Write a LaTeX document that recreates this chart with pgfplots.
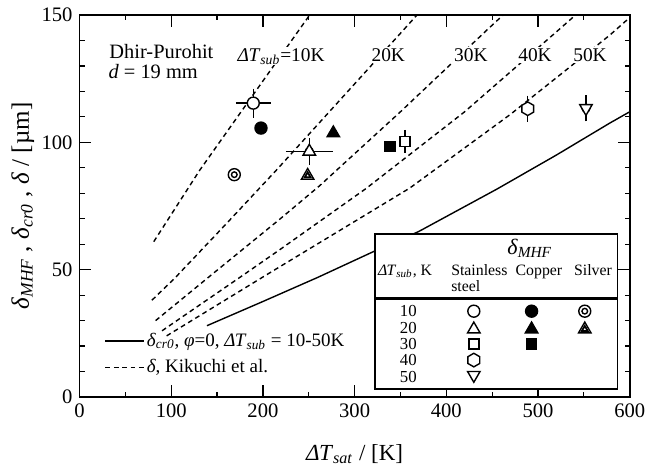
\documentclass[border=0pt]{standalone}
\usepackage{fontspec}
\setmainfont{Liberation Serif}
\usepackage{pgfplots}
\pgfplotsset{compat=1.18}
\pgfdeclareplotmark{hexagon*}{%
  \pgfpathmoveto{\pgfpointpolar{90}{\pgfplotmarksize}}%
  \pgfpathlineto{\pgfpointpolar{150}{\pgfplotmarksize}}%
  \pgfpathlineto{\pgfpointpolar{210}{\pgfplotmarksize}}%
  \pgfpathlineto{\pgfpointpolar{270}{\pgfplotmarksize}}%
  \pgfpathlineto{\pgfpointpolar{330}{\pgfplotmarksize}}%
  \pgfpathlineto{\pgfpointpolar{30}{\pgfplotmarksize}}%
  \pgfpathclose
  \pgfusepathqfillstroke}
\newcommand{\dT}{\textit{Δ\kern-0.3pt T}}
\newcommand{\sub}[1]{\textsubscript{\textit{#1}}}
\newcommand{\fs}[1]{\fontsize{#1}{#1}\selectfont}
\pgfplotsset{
  kik/.style={black, line width=0.7pt, dash pattern=on 2.4pt off 1.8pt},
  mk/.style={only marks, black, line width=0.7pt, mark options={solid, fill=white}},
  mkd/.style={only marks, black, line width=0.7pt, mark options={solid, fill=white, rotate=180}},
  mkf/.style={only marks, black, line width=0.7pt, mark options={solid, fill=black}},
  ebxy/.style={only marks, mark=none, black, line width=0.7pt, forget plot,
    error bars/.cd, x dir=both, x explicit, y dir=both, y explicit,
    error bar style={line width=0.7pt, solid},
    error mark options={mark size=3pt, line width=0.7pt}},
  eby/.style={only marks, mark=none, black, line width=0.7pt, forget plot,
    error bars/.cd, y dir=both, y explicit,
    error bar style={line width=0.7pt, solid},
    error mark options={mark size=3pt, line width=0.7pt}},
}
\begin{document}
\begin{tikzpicture}
\begin{axis}[
  width=275.1pt, height=191pt, scale only axis,
  xmin=0, xmax=600, ymin=0, ymax=150,
  xtick={0,100,...,600}, ytick={0,50,100,150},
  minor x tick num=1, minor y tick num=4,
  tick align=inside,
  major tick length=5.8pt, minor tick length=2.6pt,
  every tick/.append style={black, line width=0.6pt},
  axis line style={line width=0.8pt},
  tick label style={font=\fs{10.3}},
  /pgf/number format/assume math mode=true,
  xlabel={\dT\sub{sat} / [K]},
  ylabel={\textit{δ}\sub{MHF} , \textit{δ}\sub{cr0} , \textit{δ} / [µm]},
  xlabel style={font=\fs{11.5}, at={(axis description cs:0.5,0)}, anchor=center, yshift=-28.5pt},
  ylabel style={font=\fs{12.5}, at={(axis description cs:0,0.5)}, anchor=center, yshift=28.3pt},
  legend style={at={(axis cs:27,7.5)}, anchor=south west, draw=none, fill=none,
    font=\fs{9.5}, inner sep=0pt, row sep=3pt, nodes={inner sep=1pt}},
  legend cell align=left,
  legend image code/.code={\draw[#1] (0pt,0pt) -- (19.4pt,0pt);},
]
% solid curve
\addplot[black, line width=0.7pt] coordinates {(139,28) (200,37.5) (260,47) (320,57) (370,65) (455,81.6) (520,95) (578,107.5) (600,112)};
\addlegendentry{\textit{δ}\sub{cr0}, \textit{φ}=0, \dT\sub{sub} = 10-50K}
% Kikuchi curves
\addplot[kik] coordinates {(81,61) (131,89) (190,119) (251,150)};
\addlegendentry{\textit{δ}, Kikuchi et al.}
\addplot[kik, forget plot] coordinates {(79,38) (104,46.7) (160,68) (215,89.2) (280,115) (353,144) (368,150)};
\addplot[kik, forget plot] coordinates {(83,30) (144,48) (219,70) (262,83) (350,112) (444,144) (462,150)};
\addplot[kik, forget plot] coordinates {(90,26) (175,47) (219,58) (313,82) (420,112) (522,144) (541,150)};
\addplot[kik, forget plot] coordinates {(95,24) (204,48) (360,82) (470,111) (578,142) (600,149)};
% error bars
\addplot[ebxy] coordinates {(189.5,115.4) +- (12.4,3.3) (250.6,96.4) +- (18.9,3)};
\addplot[eby] coordinates {(488.8,113.2) +- (0,2.8) (552.3,113.4) +- (0,2.8) (355,100.3) +- (0,2.2)};
% stainless steel (open)
\addplot[mk, mark=*, mark size=3pt, forget plot] coordinates {(189.5,115.4)};
\addplot[mk, mark=triangle*, mark size=3.6pt, forget plot] coordinates {(250.6,96.4)};
\addplot[mk, mark=square*, mark size=2.5pt, forget plot] coordinates {(355,100.3)};
\addplot[mk, mark=hexagon*, mark size=3.4pt, forget plot] coordinates {(488.8,113.2)};
\addplot[mkd, mark=triangle*, mark size=3.6pt, forget plot] coordinates {(552.3,113.4)};
% copper (filled)
\addplot[mkf, mark=*, mark size=3pt, forget plot] coordinates {(197.9,105.6)};
\addplot[mkf, mark=triangle*, mark size=3.6pt, forget plot] coordinates {(276.8,103.6)};
\addplot[mkf, mark=square*, mark size=2.5pt, forget plot] coordinates {(338.6,98.4)};
% silver
\addplot[mk, mark=*, mark size=3pt, forget plot] coordinates {(168.8,87.3)};
\addplot[mk, mark=o, mark size=1.4pt, forget plot] coordinates {(168.8,87.3)};
\addplot[mk, mark=triangle*, mark size=3.6pt, forget plot] coordinates {(248.8,86.9)};
\addplot[mk, mark=triangle, mark size=1.7pt, line width=0.9pt, forget plot] coordinates {(248.8,86.9)};
% text
\node[anchor=west, font=\fs{10.2}] at (axis cs:25,135.6) {Dhir-Purohit};
\node[anchor=west, font=\fs{10.2}] at (axis cs:24,127.8) {\textit{d} = 19 mm};
\node[anchor=west, fill=white, inner sep=0.5pt, font=\fs{9.7}] at (axis cs:171,133.8) {\dT\sub{sub}=10K};
\node[anchor=west, fill=white, inner sep=0.5pt, font=\fs{9.7}] at (axis cs:317,134.3) {20K};
\node[anchor=west, fill=white, inner sep=0.5pt, font=\fs{9.7}] at (axis cs:407,134.3) {30K};
\node[anchor=west, fill=white, inner sep=0.5pt, font=\fs{9.7}] at (axis cs:477,134.3) {40K};
\node[anchor=west, fill=white, inner sep=0.5pt, font=\fs{9.7}] at (axis cs:537,134.3) {50K};
% legend box
\draw[line width=0.8pt, fill=white] (axis cs:322,3.2) rectangle (axis cs:586.5,64);
\draw[line width=1.3pt] (axis cs:322,38.7) -- (axis cs:586.5,38.7);
\node[anchor=base, font=\fs{11}] at (axis cs:491,55.9) {\textit{δ}\sub{MHF}};
\node[anchor=base, font=\fs{7.9}] at (axis cs:355,47.8) {\dT\sub{sub}, K};
\node[anchor=base west, font=\fs{7.9}, inner sep=0pt] at (axis cs:405,47.8) {Stainless};
\node[anchor=base west, font=\fs{7.9}, inner sep=0pt] at (axis cs:405,41.5) {steel};
\node[anchor=base, font=\fs{7.9}] at (axis cs:501,47.8) {Copper};
\node[anchor=base, font=\fs{7.9}] at (axis cs:560,47.8) {Silver};
\node[font=\fs{8.4}] at (axis cs:358.6,33.7) {10};
\node[font=\fs{8.4}] at (axis cs:358.6,27.2) {20};
\node[font=\fs{8.4}] at (axis cs:358.6,20.8) {30};
\node[font=\fs{8.4}] at (axis cs:358.6,14.5) {40};
\node[font=\fs{8.4}] at (axis cs:358.6,8.0) {50};
% legend symbols
\addplot[mk, mark=*, mark size=3pt, forget plot] coordinates {(430,33.7)};
\addplot[mk, mark=triangle*, mark size=3.6pt, forget plot] coordinates {(430,26.6)};
\addplot[mk, mark=square*, mark size=2.5pt, forget plot] coordinates {(430,20.8)};
\addplot[mk, mark=hexagon*, mark size=3.4pt, forget plot] coordinates {(430,14.5)};
\addplot[mkd, mark=triangle*, mark size=3.6pt, forget plot] coordinates {(430,8.6)};
\addplot[mkf, mark=*, mark size=3pt, forget plot] coordinates {(493,33.7)};
\addplot[mkf, mark=triangle*, mark size=3.6pt, forget plot] coordinates {(493,26.6)};
\addplot[mkf, mark=square*, mark size=2.5pt, forget plot] coordinates {(493,20.8)};
\addplot[mk, mark=*, mark size=3pt, forget plot] coordinates {(551,33.7)};
\addplot[mk, mark=o, mark size=1.4pt, forget plot] coordinates {(551,33.7)};
\addplot[mk, mark=triangle*, mark size=3.6pt, forget plot] coordinates {(551,26.6)};
\addplot[mk, mark=triangle, mark size=1.7pt, line width=0.9pt, forget plot] coordinates {(551,26.6)};
\end{axis}
\pgfresetboundingbox
\path[use as bounding box] ([shift={(-39.75pt,-34.5pt)}]current axis.south west) rectangle ([shift={(8.15pt,7.5pt)}]current axis.north east);
\end{tikzpicture}
\end{document}
